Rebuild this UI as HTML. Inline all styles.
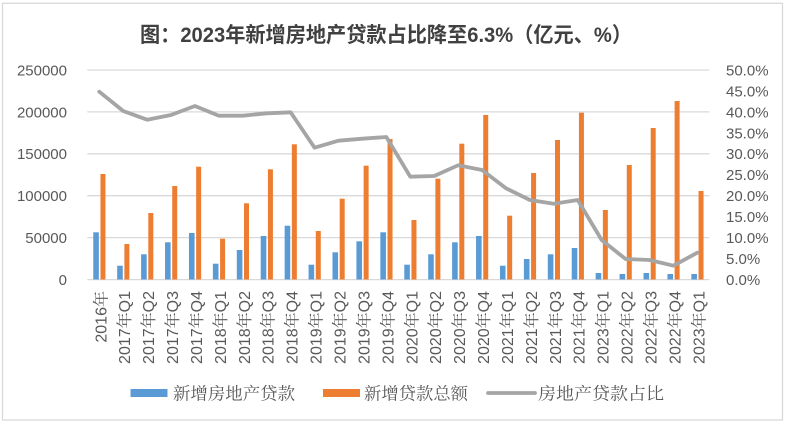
<!DOCTYPE html>
<html><head><meta charset="utf-8"><style>
html,body{margin:0;padding:0;background:#fff;}
svg{display:block;}
.ax{font-family:"Liberation Sans","Noto Sans CJK SC",sans-serif;font-size:15px;fill:#595959;}
.xl{font-family:"Liberation Sans","Noto Serif CJK SC",sans-serif;font-size:16px;fill:#595959;}
.lg{font-family:"Liberation Serif","Noto Serif CJK SC",serif;font-size:17px;fill:#595959;}
.tt{font-family:"Liberation Sans","Noto Sans CJK SC",sans-serif;font-size:21px;font-weight:bold;fill:#404040;}
</style></head><body>
<svg width="789" height="427" viewBox="0 0 789 427" xmlns="http://www.w3.org/2000/svg">
<rect x="0" y="0" width="789" height="427" fill="#fff"/>
<rect x="2.5" y="3.3" width="780" height="416.7" fill="#fff" stroke="#d9d9d9" stroke-width="1.3"/>
<text class="tt" x="140" y="42" textLength="492" lengthAdjust="spacingAndGlyphs">图：2023年新增房地产贷款占比降至6.3%（亿元、%）</text>
<g stroke="#d9d9d9" stroke-width="1.3">
<line x1="87.3" y1="70" x2="709.3" y2="70"/>
<line x1="87.3" y1="111.9" x2="709.3" y2="111.9"/>
<line x1="87.3" y1="153.8" x2="709.3" y2="153.8"/>
<line x1="87.3" y1="195.7" x2="709.3" y2="195.7"/>
<line x1="87.3" y1="237.6" x2="709.3" y2="237.6"/>
<line x1="87.3" y1="279.6" x2="709.3" y2="279.6"/>
</g>
<g class="ax" text-anchor="end">
<text x="67" y="75.4">250000</text>
<text x="67" y="117.3">200000</text>
<text x="67" y="159.2">150000</text>
<text x="67" y="201.1">100000</text>
<text x="67" y="243">50000</text>
<text x="67" y="284.9">0</text>
</g>
<g class="ax">
<text x="726" y="75.4">50.0%</text>
<text x="726" y="96.4">45.0%</text>
<text x="726" y="117.3">40.0%</text>
<text x="726" y="138.3">35.0%</text>
<text x="726" y="159.2">30.0%</text>
<text x="726" y="180.2">25.0%</text>
<text x="726" y="201.1">20.0%</text>
<text x="726" y="222.1">15.0%</text>
<text x="726" y="243">10.0%</text>
<text x="726" y="264">5.0%</text>
<text x="726" y="284.9">0.0%</text>
</g>
<g fill="#5b9bd5">
<rect x="93.26" y="232.3" width="5.6" height="47.2"/>
<rect x="117.18" y="265.7" width="5.6" height="13.8"/>
<rect x="141.11" y="254.3" width="5.6" height="25.2"/>
<rect x="165.03" y="242.3" width="5.6" height="37.2"/>
<rect x="188.95" y="233" width="5.6" height="46.5"/>
<rect x="212.88" y="263.7" width="5.6" height="15.8"/>
<rect x="236.8" y="250" width="5.6" height="29.5"/>
<rect x="260.72" y="236" width="5.6" height="43.5"/>
<rect x="284.65" y="225.7" width="5.6" height="53.8"/>
<rect x="308.57" y="264.7" width="5.6" height="14.8"/>
<rect x="332.49" y="252.3" width="5.6" height="27.2"/>
<rect x="356.42" y="241.3" width="5.6" height="38.2"/>
<rect x="380.34" y="232.3" width="5.6" height="47.2"/>
<rect x="404.26" y="264.7" width="5.6" height="14.8"/>
<rect x="428.19" y="254.3" width="5.6" height="25.2"/>
<rect x="452.11" y="242.3" width="5.6" height="37.2"/>
<rect x="476.03" y="236" width="5.6" height="43.5"/>
<rect x="499.96" y="265.7" width="5.6" height="13.8"/>
<rect x="523.88" y="259" width="5.6" height="20.5"/>
<rect x="547.8" y="254.3" width="5.6" height="25.2"/>
<rect x="571.73" y="248" width="5.6" height="31.5"/>
<rect x="595.65" y="273" width="5.6" height="6.5"/>
<rect x="619.57" y="274" width="5.6" height="5.5"/>
<rect x="643.5" y="273" width="5.6" height="6.5"/>
<rect x="667.42" y="274" width="5.6" height="5.5"/>
<rect x="691.34" y="274" width="5.6" height="5.5"/>
</g>
<g fill="#ed7d31">
<rect x="100.46" y="174" width="5" height="105.5"/>
<rect x="124.38" y="244" width="5" height="35.5"/>
<rect x="148.31" y="213" width="5" height="66.5"/>
<rect x="172.23" y="186" width="5" height="93.5"/>
<rect x="196.15" y="166.7" width="5" height="112.8"/>
<rect x="220.08" y="238.7" width="5" height="40.8"/>
<rect x="244" y="203.3" width="5" height="76.2"/>
<rect x="267.92" y="169.3" width="5" height="110.2"/>
<rect x="291.85" y="144.3" width="5" height="135.2"/>
<rect x="315.77" y="231" width="5" height="48.5"/>
<rect x="339.69" y="198.7" width="5" height="80.8"/>
<rect x="363.62" y="165.7" width="5" height="113.8"/>
<rect x="387.54" y="139" width="5" height="140.5"/>
<rect x="411.46" y="220" width="5" height="59.5"/>
<rect x="435.39" y="178.7" width="5" height="100.8"/>
<rect x="459.31" y="143.7" width="5" height="135.8"/>
<rect x="483.23" y="115" width="5" height="164.5"/>
<rect x="507.16" y="215.7" width="5" height="63.8"/>
<rect x="531.08" y="173" width="5" height="106.5"/>
<rect x="555" y="140" width="5" height="139.5"/>
<rect x="578.93" y="112.7" width="5" height="166.8"/>
<rect x="602.85" y="210" width="5" height="69.5"/>
<rect x="626.77" y="165" width="5" height="114.5"/>
<rect x="650.7" y="128" width="5" height="151.5"/>
<rect x="674.62" y="101" width="5" height="178.5"/>
<rect x="698.54" y="191" width="5" height="88.5"/>
</g>
<polyline fill="none" stroke="#a5a5a5" stroke-width="3.8" stroke-linejoin="round" stroke-linecap="round" points="99.26,91.7 123.18,111 147.11,119.7 171.03,115 194.95,106 218.88,115.7 242.8,115.7 266.72,113.3 290.65,112.3 314.57,147.7 338.49,140.7 362.42,138.7 386.34,137 410.26,176.7 434.19,176 458.11,165.3 482.03,170 505.96,188.3 529.88,200 553.8,203.7 577.73,200 601.65,240 625.57,259 649.5,260 673.42,265.7 697.34,252.7"/>
<g class="xl" text-anchor="end">
<text transform="translate(106.26,291) rotate(-90)">2016年</text>
<text transform="translate(130.18,291) rotate(-90)">2017年Q1</text>
<text transform="translate(154.11,291) rotate(-90)">2017年Q2</text>
<text transform="translate(178.03,291) rotate(-90)">2017年Q3</text>
<text transform="translate(201.95,291) rotate(-90)">2017年Q4</text>
<text transform="translate(225.88,291) rotate(-90)">2018年Q1</text>
<text transform="translate(249.8,291) rotate(-90)">2018年Q2</text>
<text transform="translate(273.72,291) rotate(-90)">2018年Q3</text>
<text transform="translate(297.65,291) rotate(-90)">2018年Q4</text>
<text transform="translate(321.57,291) rotate(-90)">2019年Q1</text>
<text transform="translate(345.49,291) rotate(-90)">2019年Q2</text>
<text transform="translate(369.42,291) rotate(-90)">2019年Q3</text>
<text transform="translate(393.34,291) rotate(-90)">2019年Q4</text>
<text transform="translate(417.26,291) rotate(-90)">2020年Q1</text>
<text transform="translate(441.19,291) rotate(-90)">2020年Q2</text>
<text transform="translate(465.11,291) rotate(-90)">2020年Q3</text>
<text transform="translate(489.03,291) rotate(-90)">2020年Q4</text>
<text transform="translate(512.96,291) rotate(-90)">2021年Q1</text>
<text transform="translate(536.88,291) rotate(-90)">2021年Q2</text>
<text transform="translate(560.8,291) rotate(-90)">2021年Q3</text>
<text transform="translate(584.73,291) rotate(-90)">2021年Q4</text>
<text transform="translate(608.65,291) rotate(-90)">2023年Q1</text>
<text transform="translate(632.57,291) rotate(-90)">2022年Q2</text>
<text transform="translate(656.5,291) rotate(-90)">2022年Q3</text>
<text transform="translate(680.42,291) rotate(-90)">2022年Q4</text>
<text transform="translate(704.34,291) rotate(-90)">2023年Q1</text>
</g>
<rect x="130.5" y="389" width="37" height="8" fill="#5b9bd5"/>
<text class="lg" x="173" y="399.5" textLength="122" lengthAdjust="spacingAndGlyphs">新增房地产贷款</text>
<rect x="323" y="389" width="37" height="8" fill="#ed7d31"/>
<text class="lg" x="364" y="399.5" textLength="104" lengthAdjust="spacingAndGlyphs">新增贷款总额</text>
<line x1="488" y1="393" x2="535" y2="393" stroke="#a5a5a5" stroke-width="3.8" stroke-linecap="round"/>
<text class="lg" x="538" y="399.5" textLength="126" lengthAdjust="spacingAndGlyphs">房地产贷款占比</text>
</svg>
</body></html>
